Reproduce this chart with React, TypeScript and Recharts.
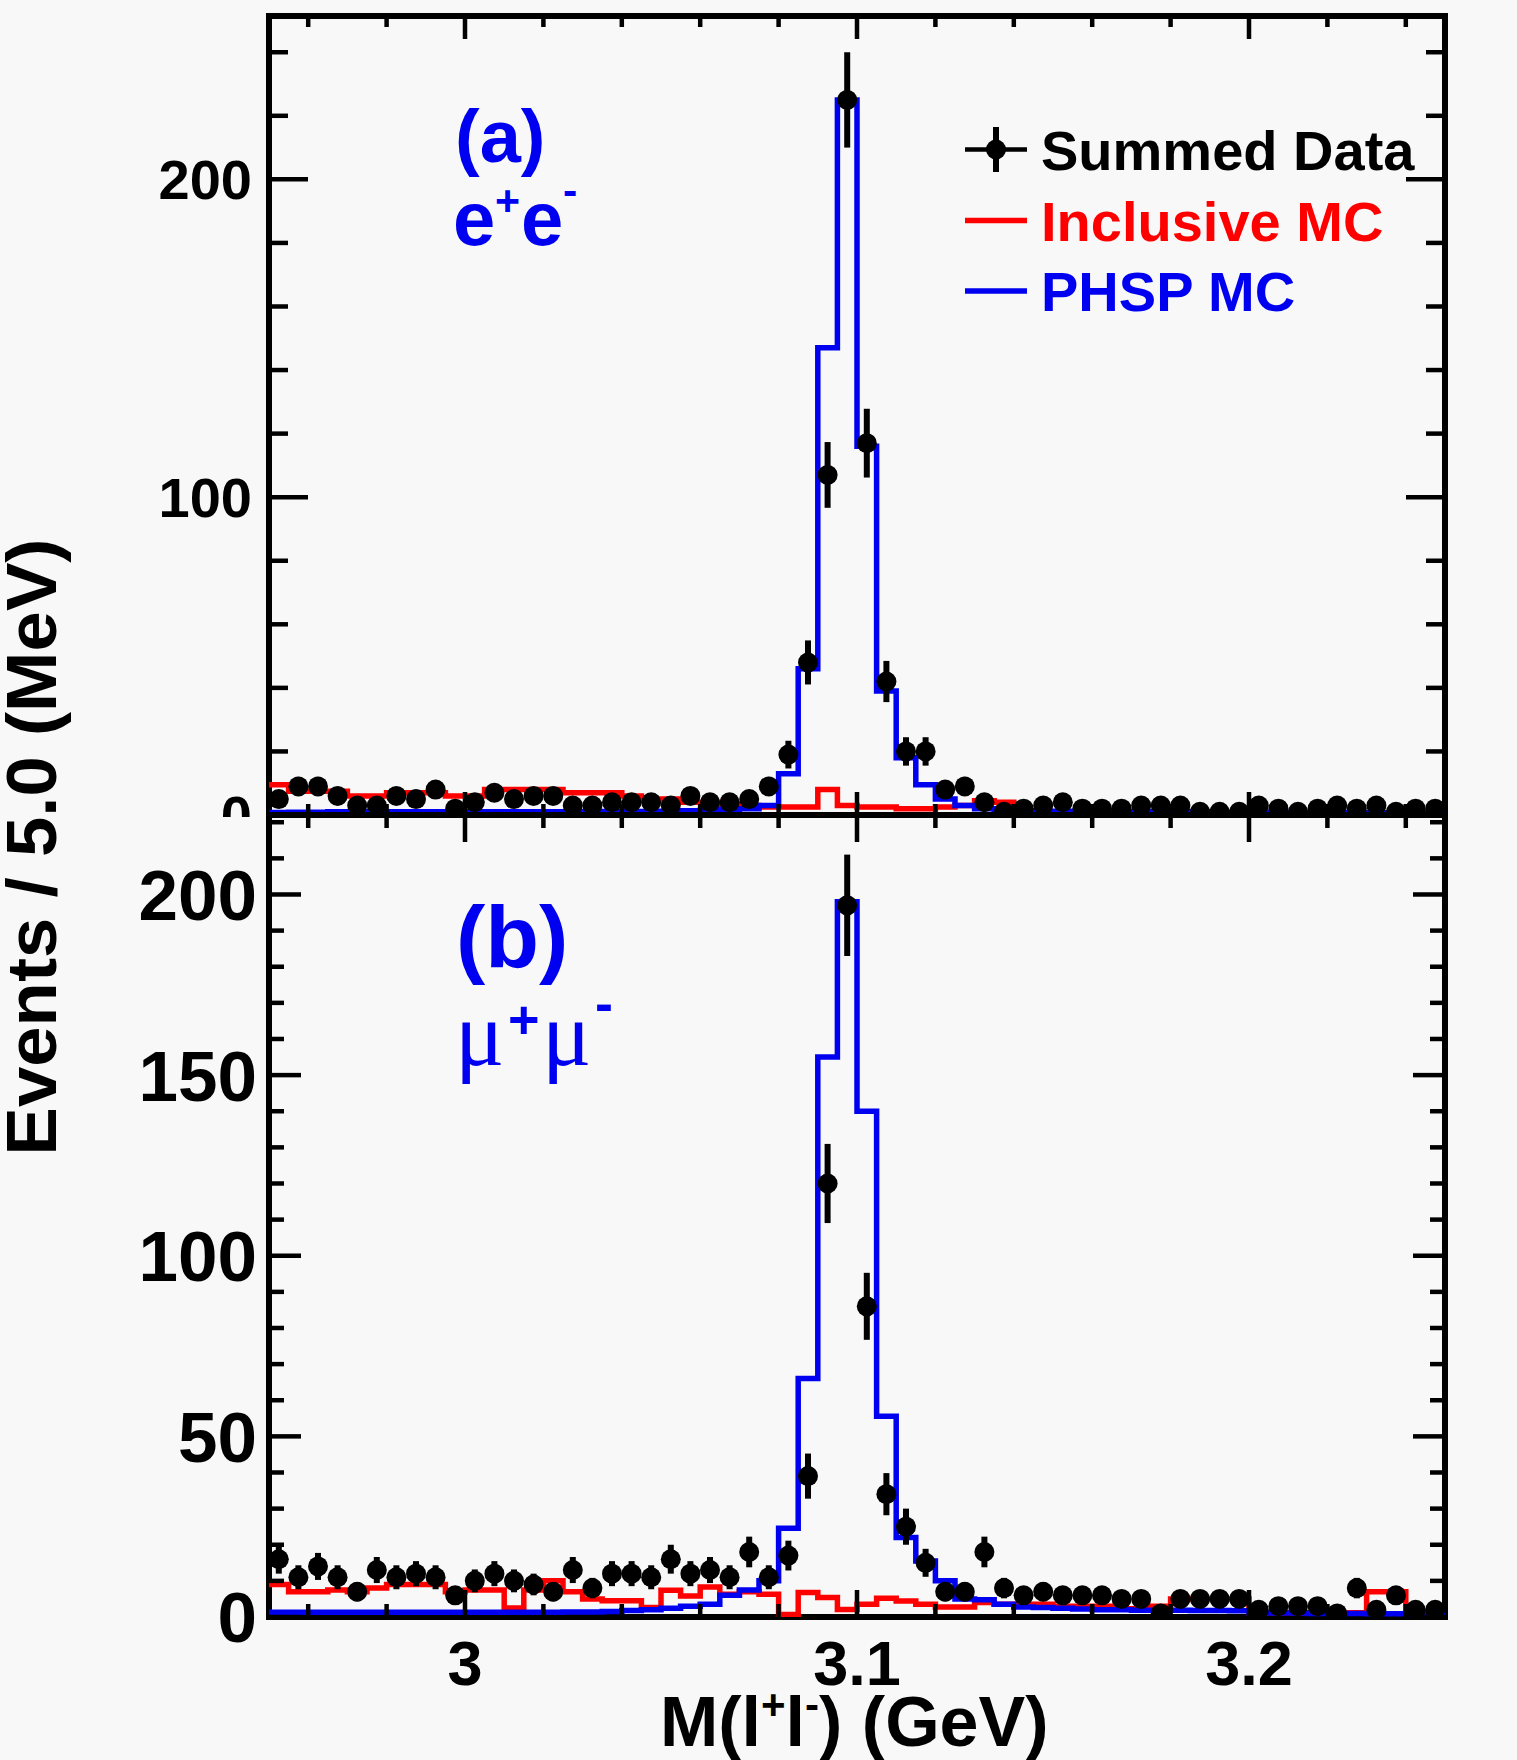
import React from 'react';
import { ComposedChart, Line, Scatter, ErrorBar, XAxis, YAxis, ReferenceArea } from 'recharts';

// 60 bins of 5 MeV from 2.95 to 3.25 GeV
const X_MIN = 2.95;
const X_MAX = 3.25;
const BIN_WIDTH = 0.005;

const xTicks = [2.96, 2.98, 3.0, 3.02, 3.04, 3.06, 3.08, 3.1, 3.12, 3.14, 3.16, 3.18, 3.2, 3.22, 3.24];
const xMajor = [3.0, 3.1, 3.2];

const eeYTicks = [0, 20, 40, 60, 80, 100, 120, 140, 160, 180, 200, 220, 240];
const eeYMajor = [0, 100, 200];
const mmYTicks = [0, 10, 20, 30, 40, 50, 60, 70, 80, 90, 100, 110, 120, 130, 140, 150, 160, 170, 180, 190, 200, 210, 220];
const mmYMajor = [0, 50, 100, 150, 200];

// (a) e+e-
const eeData = [
  5, 9, 9, 6, 3, 3, 6, 5, 8, 2,
  4, 7, 5, 6, 6, 3, 3, 4, 4, 4,
  3, 6, 4, 4, 5, 9, 19, 48, 107, 225,
  117, 42, 20, 20, 8, 9, 4, 1, 2, 3,
  4, 2, 2, 2, 3, 3, 3, 1, 1, 1,
  3, 2, 1, 2, 3, 2, 3, 1, 2, 2,
];
const eeIncl = [
  9.5, 7.5, 7.5, 7.5, 6, 6, 7, 7, 7, 6,
  6, 8, 8, 8, 8, 7, 7, 7, 6, 5,
  5, 4, 4, 3.5, 3, 2.5, 2.5, 2.5, 8, 3,
  2.5, 2.5, 2, 2, 2.5, 3, 4.5, 4, 1, 1,
  1, 0.8, 0.8, 0.8, 0.8, 0.7, 0.7, 0.7, 0.7, 0.6,
  0.6, 0.6, 0.6, 0.5, 0.5, 0.5, 0.5, 0.5, 0.5, 0.5,
];
const eePhsp = [
  0.8, 0.9, 0.9, 1, 1, 1, 1, 1, 1, 1,
  1, 1, 1, 1, 1, 1, 1, 1.1, 1.1, 1.1,
  1.2, 1.3, 1.5, 1.8, 2, 3, 13, 46, 147, 225,
  116, 39, 18, 9.5, 5, 3, 2, 1.5, 1.3, 1.2,
  1.2, 1.1, 1.1, 1, 1, 1, 1, 1, 0.9, 0.9,
  0.9, 0.8, 0.8, 0.8, 0.8, 0.7, 0.7, 0.7, 0.7, 0.6,
];

// (b) mu+mu-
const mmData = [
  16, 11, 14, 11, 7, 13, 11, 12, 11, 6,
  10, 12, 10, 9, 7, 13, 8, 12, 12, 11,
  16, 12, 13, 11, 18, 11, 17, 39, 120, 197,
  86, 34, 25, 15, 7, 7, 18, 8, 6, 7,
  6, 6, 6, 5, 5, 1, 5, 5, 5, 5,
  2, 3, 3, 3, 1, 8, 2, 6, 2, 2,
];
const mmIncl = [
  9, 7, 7, 7.5, 7, 8, 9, 9, 9, 7,
  7.5, 7.5, 2.5, 7.5, 10, 7, 5, 4.5, 4.5, 2.6,
  7.4, 5.8, 8.3, 6.3, 7, 6.3, 0.7, 6.8, 5.4, 2.1,
  3.5, 5.2, 4.4, 3.5, 2.8, 2.8, 4, 3.5, 3.5, 3.5,
  3, 3, 3, 2.3, 2.3, 3, 5, 5, 5, 5,
  1.2, 1.2, 1.2, 1.2, 1.2, 1.2, 7, 7, 1.5, 1.5,
];
const mmPhsp = [
  1.3, 1.3, 1.3, 1.3, 1.3, 1.3, 1.3, 1.3, 1.3, 1.3,
  1.3, 1.3, 1.3, 1.3, 1.3, 1.4, 1.4, 1.5, 1.8, 2,
  2.4, 3, 3.5, 6, 7.5, 10, 24.6, 66, 155, 198,
  140, 55.6, 22, 15.5, 10, 5, 4.8, 3.5, 2.8, 2.6,
  2.4, 2.2, 2, 2, 1.9, 1.9, 1.9, 1.8, 1.8, 1.7,
  1.2, 1.1, 1.1, 1, 1, 1, 0.9, 0.9, 0.8, 0.8,
];

const EE_Y_MAX = 251.4;
const MM_Y_MAX = 222;

const FONT = '"Liberation Sans", Arial, Helvetica, sans-serif';
const SERIF = '"Liberation Serif", "DejaVu Serif", serif';
const BLUE = '#0000f0';
const RED = '#ff0000';

const PLOT_LEFT = 269;
const PLOT_RIGHT = 1445;
const HIST_WIDTH = 5.5;

const binLow = (i: number) => X_MIN + i * BIN_WIDTH;

const toPoints = (vals: number[]) =>
  vals.map((v, i) => ({ x: binLow(i) + BIN_WIDTH / 2, y: v, err: Math.sqrt(v) }));

// step outline: low edge of every bin plus the upper edge of the last one
const toHist = (vals: number[]) => [
  ...vals.map((v, i) => ({ x: binLow(i), y: v })),
  { x: X_MAX, y: vals[vals.length - 1] },
];

const isIn = (list: number[], v: number) => list.some((m) => Math.abs(m - v) < 1e-6);

type PanelProps = {
  data: number[];
  incl: number[];
  phsp: number[];
  yMax: number;
  yTicks: number[];
  yMajor: number[];
  top: number;
  bottom: number;
  height: number;
  yMajorLen: number;
  yMinorLen: number;
  xMajorLen: number;
  xMinorLen: number;
  labelSize: number;
  labelRight: number;
  showXLabels: boolean;
};

function Panel(p: PanelProps) {
  const XTick = (t: any) => {
    const x = t.x;
    const v = t.payload.value;
    const major = isIn(xMajor, v);
    const len = major ? p.xMajorLen : p.xMinorLen;
    return (
      <g>
        <line x1={x} x2={x} y1={p.bottom} y2={p.bottom - len} stroke="#000" strokeWidth={4.5} />
        <line x1={x} x2={x} y1={p.top} y2={p.top + len} stroke="#000" strokeWidth={4.5} />
        {p.showXLabels && major && (
          <text x={x} y={1685} textAnchor="middle" fontFamily={FONT} fontWeight="bold" fontSize={63} fill="#000">
            {String(Math.round(v * 10) / 10)}
          </text>
        )}
      </g>
    );
  };

  const YTick = (t: any) => {
    const y = t.y;
    const v = t.payload.value;
    const major = isIn(p.yMajor, v);
    const len = major ? p.yMajorLen : p.yMinorLen;
    return (
      <g>
        <line x1={PLOT_LEFT} x2={PLOT_LEFT + len} y1={y} y2={y} stroke="#000" strokeWidth={4.5} />
        <line x1={PLOT_RIGHT - len} x2={PLOT_RIGHT} y1={y} y2={y} stroke="#000" strokeWidth={4.5} />
        {major && (
          <text
            x={p.labelRight}
            y={y + p.labelSize * 0.358}
            textAnchor="end"
            fontFamily={FONT}
            fontWeight="bold"
            fontSize={p.labelSize}
            fill="#000"
          >
            {v}
          </text>
        )}
      </g>
    );
  };

  return (
    <ComposedChart
      width={1517}
      height={p.height}
      margin={{ top: p.top, right: 1517 - PLOT_RIGHT, bottom: p.height - p.bottom - 30, left: 0 }}
    >
      <XAxis
        type="number"
        dataKey="x"
        domain={[X_MIN, X_MAX]}
        allowDataOverflow
        ticks={xTicks}
        interval={0}
        height={30}
        axisLine={false}
        tickLine={false}
        tick={XTick}
      />
      <YAxis
        type="number"
        domain={[0, p.yMax]}
        allowDataOverflow
        ticks={p.yTicks}
        interval={0}
        width={PLOT_LEFT}
        axisLine={false}
        tickLine={false}
        tick={YTick}
      />
      <Line
        data={toHist(p.incl)}
        dataKey="y"
        type="stepAfter"
        stroke={RED}
        strokeWidth={HIST_WIDTH}
        dot={false}
        activeDot={false}
        isAnimationActive={false}
      />
      <Line
        data={toHist(p.phsp)}
        dataKey="y"
        type="stepAfter"
        stroke={BLUE}
        strokeWidth={HIST_WIDTH}
        dot={false}
        activeDot={false}
        isAnimationActive={false}
      />
      <Scatter
        data={toPoints(p.data)}
        dataKey="y"
        isAnimationActive={false}
        shape={(s: any) => <circle cx={s.cx} cy={s.cy} r={10} fill="#000" />}
      >
        <ErrorBar dataKey="err" direction="y" width={0} stroke="#000" strokeWidth={6} isAnimationActive={false} />
      </Scatter>
      <ReferenceArea x1={X_MIN} x2={X_MAX} y1={0} y2={p.yMax} fill="none" stroke="#000" strokeWidth={6} ifOverflow="visible" />
    </ComposedChart>
  );
}

function Overlay() {
  const bold = { fontFamily: FONT, fontWeight: 'bold' as const };
  return (
    <svg width={1517} height={1760} style={{ position: 'absolute', left: 0, top: 0, pointerEvents: 'none' }}>
      {/* axis titles */}
      <text
        x={56}
        y={847}
        transform="rotate(-90 56 847)"
        textAnchor="middle"
        fontSize={70}
        textLength={617}
        lengthAdjust="spacingAndGlyphs"
        fill="#000"
        {...bold}
      >
        Events / 5.0 (MeV)
      </text>
      <text x={660} y={1746} fontSize={70} fill="#000" {...bold}>
        M(l<tspan dy={-27} fontSize={42}>+</tspan>
        <tspan dy={27} fontSize={70}>l</tspan>
        <tspan dy={-27} fontSize={42}>-</tspan>
        <tspan dy={27} fontSize={70}>) (GeV)</tspan>
      </text>

      {/* panel labels */}
      <text x={455} y={162} fontSize={74} fill={BLUE} {...bold}>(a)</text>
      <text x={453} y={245} fontSize={76} fill={BLUE} {...bold}>e</text>
      <text x={495} y={215} fontSize={43} fill={BLUE} {...bold}>+</text>
      <text x={521} y={245} fontSize={76} fill={BLUE} {...bold}>e</text>
      <text x={563} y={205} fontSize={43} fill={BLUE} {...bold}>-</text>

      <text x={456} y={967} fontSize={88} fill={BLUE} {...bold}>(b)</text>
      <text x={455} y={1065} fontSize={92} fill={BLUE} fontFamily={SERIF}>μ</text>
      <text x={508} y={1038} fontSize={54} fill={BLUE} {...bold}>+</text>
      <text x={542} y={1065} fontSize={92} fill={BLUE} fontFamily={SERIF}>μ</text>
      <text x={595} y={1022} fontSize={54} fill={BLUE} {...bold}>-</text>

      {/* legend */}
      <line x1={965} x2={1027} y1={149.5} y2={149.5} stroke="#000" strokeWidth={4.5} />
      <line x1={996} x2={996} y1={127} y2={172} stroke="#000" strokeWidth={6} />
      <circle cx={996} cy={149.5} r={10} fill="#000" />
      <text x={1041} y={169.5} fontSize={56} fill="#000" {...bold}>Summed Data</text>
      <line x1={965} x2={1027} y1={220.5} y2={220.5} stroke={RED} strokeWidth={HIST_WIDTH} />
      <text x={1041} y={240.5} fontSize={56} fill={RED} {...bold}>Inclusive MC</text>
      <line x1={965} x2={1027} y1={291} y2={291} stroke={BLUE} strokeWidth={HIST_WIDTH} />
      <text x={1041} y={311} fontSize={56} fill={BLUE} {...bold}>PHSP MC</text>
    </svg>
  );
}

export default function App() {
  return (
    <div style={{ position: 'absolute', left: 0, top: 0, width: 1517, height: 1760, background: '#f8f8f8', overflow: 'hidden' }}>
      <div style={{ position: 'absolute', left: 0, top: 0, width: 1517, height: 817, overflow: 'hidden' }}>
        <Panel
          data={eeData}
          incl={eeIncl}
          phsp={eePhsp}
          yMax={EE_Y_MAX}
          yTicks={eeYTicks}
          yMajor={eeYMajor}
          top={16}
          bottom={815}
          height={870}
          yMajorLen={39}
          yMinorLen={19}
          xMajorLen={23}
          xMinorLen={11}
          labelSize={56}
          labelRight={252}
          showXLabels={false}
        />
      </div>
      <div style={{ position: 'absolute', left: 0, top: 0, width: 1517, height: 1760 }}>
        <Panel
          data={mmData}
          incl={mmIncl}
          phsp={mmPhsp}
          yMax={MM_Y_MAX}
          yTicks={mmYTicks}
          yMajor={mmYMajor}
          top={815}
          bottom={1617}
          height={1760}
          yMajorLen={32}
          yMinorLen={15}
          xMajorLen={27}
          xMinorLen={13}
          labelSize={71}
          labelRight={257}
          showXLabels={true}
        />
      </div>
      <Overlay />
    </div>
  );
}
